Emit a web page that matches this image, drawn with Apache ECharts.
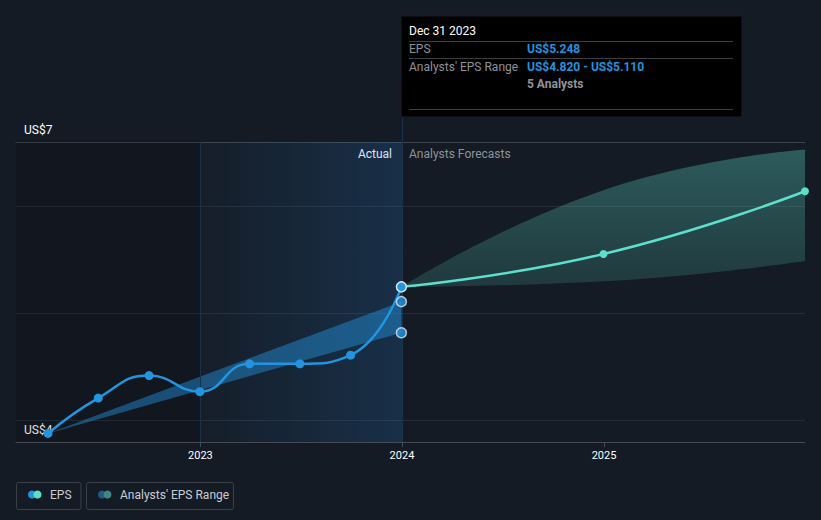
<!DOCTYPE html>
<html>
<head>
<meta charset="utf-8">
<script src="https://cdn.jsdelivr.net/npm/echarts@6/dist/echarts.min.js"></script>
<style>
html,body{margin:0;padding:0;background:#151b24;}
#chart{width:821px;height:520px;}
</style>
</head>
<body>
<div id="chart"></div>
<script>
// ---- data ----
const pastDates = ['2022-03-31','2022-06-30','2022-09-30','2022-12-31','2023-03-31','2023-06-30','2023-09-30','2023-12-31'];
const pastEps   = [3.88, 4.21, 4.42, 4.27, 4.53, 4.53, 4.61, 5.248];
const pastRangeDates = ['2022-03-31','2023-12-31'];
const pastRangeLow   = [3.88, 4.82];
const pastRangeHigh  = [3.88, 5.11];
const rangeEndDate = '2023-12-31';
const rangeEndValues = [5.11, 4.82];
const fcDates = ['2023-12-31','2024-12-31','2025-12-31'];
const fcEps   = [5.248, 5.555, 6.14];
const fcLow   = [5.248, 5.30, 5.49];
const fcHigh  = [5.248, 6.15, 6.53];
const yLabelMap = {4: 'US$4', 6.6: 'US$7'};
const xMin = '2022-02-01', xMax = '2025-12-31';
const yMin = 3.8, yMax = 6.6;
const actualStart = '2023-01-01', actualEnd = '2024-01-01';

const BLUE = '#2394df', TEAL = '#5ce0cc';
const FONT = 'Roboto, "Open Sans", sans-serif';
const VLINE = '#1a3149';

const chart = echarts.init(document.getElementById('chart'), null, {renderer: 'svg'});

const pastBandLower = pastRangeDates.map((d, i) => [d, pastRangeLow[i]]);
const pastBandDiff = pastRangeDates.map((d, i) => [d, pastRangeHigh[i] - pastRangeLow[i]]);
const fcBandLower = fcDates.map((d, i) => [d, fcLow[i]]);
const fcBandDiff = fcDates.map((d, i) => [d, fcHigh[i] - fcLow[i]]);

const option = {
  backgroundColor: '#151b24',
  animation: false,
  textStyle: {fontFamily: FONT},
  grid: {left: 16, right: 16, top: 142, bottom: 78},
  xAxis: [{
    type: 'time', min: xMin, max: xMax, splitNumber: 3,
    axisLine: {lineStyle: {color: '#444b55', width: 1}},
    axisTick: {show: true, length: 5, lineStyle: {color: '#444b55'}},
    axisLabel: {color: '#ffffff', fontSize: 11, margin: 8, formatter: '{yyyy}', fontFamily: FONT},
    splitLine: {show: false}
  }, {
    type: 'time', min: xMin, max: xMax, position: 'top',
    axisLine: {show: true, lineStyle: {color: '#3e444d', width: 1}},
    axisTick: {show: false}, axisLabel: {show: false}, splitLine: {show: false}
  }],
  yAxis: {
    type: 'value', min: yMin, max: yMax, splitNumber: 3,
    axisLine: {show: false}, axisTick: {show: false},
    splitLine: {lineStyle: {color: '#262d37', width: 1}},
    axisLabel: {
      inside: true, margin: 8, showMinLabel: true, showMaxLabel: true,
      formatter: v => {
        for (const k in yLabelMap) { if (Math.abs(v - Number(k)) < 1e-6) return (Number(k) === 4 ? '{lo|' : '{hi|') + yLabelMap[k] + '}'; }
        return '';
      },
      rich: {
        lo: {color: '#ffffff', fontSize: 12, fontFamily: FONT, padding: [18, 0, 0, 0]},
        hi: {color: '#ffffff', fontSize: 12, fontFamily: FONT, padding: [0, 0, 24, 0]}
      }
    }
  },
  series: [
    {
      name: 'regions', type: 'line', data: [], silent: true,
      markArea: {
        silent: true,
        data: [
          [{xAxis: xMin, itemStyle: {color: 'rgba(0,0,0,0.12)'}}, {xAxis: actualStart}],
          [{xAxis: actualStart, itemStyle: {color: new echarts.graphic.LinearGradient(0, 0, 1, 0, [
            {offset: 0, color: 'rgba(35,120,200,0.03)'}, {offset: 1, color: 'rgba(35,120,200,0.22)'}])}}, {xAxis: actualEnd}]
        ]
      },
      markLine: {
        silent: true, symbol: 'none', label: {show: false},
        lineStyle: {color: VLINE, width: 1, type: 'solid'},
        data: [{xAxis: actualStart}, {xAxis: actualEnd}]
      }
    },
    {
      name: 'pastLow', type: 'line', stack: 'past', data: pastBandLower,
      symbol: 'none', lineStyle: {opacity: 0}, silent: true
    },
    {
      name: 'pastBand', type: 'line', stack: 'past', data: pastBandDiff,
      symbol: 'none', lineStyle: {opacity: 0}, silent: true,
      areaStyle: {color: 'rgba(35,148,223,0.45)', opacity: 1}
    },
    {
      name: 'fcLow', type: 'line', stack: 'fc', data: fcBandLower, smooth: 0.5,
      symbol: 'none', lineStyle: {opacity: 0}, silent: true
    },
    {
      name: 'fcBand', type: 'line', stack: 'fc', data: fcBandDiff, smooth: 0.5,
      symbol: 'none', lineStyle: {opacity: 0}, silent: true,
      areaStyle: {opacity: 1, color: new echarts.graphic.LinearGradient(0, 0, 0, 1, [
        {offset: 0, color: 'rgba(95,227,209,0.32)'}, {offset: 1, color: 'rgba(95,227,209,0.15)'}])}
    },
    {
      name: 'fcEps', type: 'line', data: fcDates.map((d, i) => i === 0 ? {value: [d, fcEps[i]], symbol: 'none'} : [d, fcEps[i]]),
      smooth: 0.5, symbol: 'circle', symbolSize: 8, showSymbol: true,
      lineStyle: {color: TEAL, width: 2.5}, itemStyle: {color: TEAL}
    },
    {
      name: 'EPS', type: 'line', data: pastDates.map((d, i) => i === pastDates.length - 1 ?
        {value: [d, pastEps[i]], symbolSize: 10, itemStyle: {color: BLUE, borderColor: '#dfe6ee', borderWidth: 1.5}} : [d, pastEps[i]]),
      smooth: 0.5, symbol: 'circle', symbolSize: 9, showSymbol: true, z: 5,
      lineStyle: {color: BLUE, width: 2.5}, itemStyle: {color: BLUE}
    },
    {
      name: 'rangeEnds', type: 'scatter', z: 6,
      data: rangeEndValues.map(v => [rangeEndDate, v]),
      symbolSize: 10, itemStyle: {color: BLUE, borderColor: '#dfe6ee', borderWidth: 1.5}
    }
  ],
  graphic: [
    {type: 'line', shape: {x1: 402.5, y1: 117, x2: 402.5, y2: 142}, style: {stroke: VLINE, lineWidth: 1}, silent: true},
    {type: 'text', x: 392, y: 154, style: {text: 'Actual', fill: '#ffffff', font: '12px ' + FONT, align: 'right', verticalAlign: 'middle'}},
    {type: 'text', x: 409, y: 154, style: {text: 'Analysts Forecasts', fill: '#8c929a', font: '12px ' + FONT, align: 'left', verticalAlign: 'middle'}},
    // tooltip box
    {type: 'rect', shape: {x: 401, y: 16, width: 341, height: 101}, style: {fill: '#000000', stroke: '#1b1f25', lineWidth: 1}},
    {type: 'line', shape: {x1: 409, y1: 41.5, x2: 733, y2: 41.5}, style: {stroke: '#3b3e43', lineWidth: 1}},
    {type: 'line', shape: {x1: 409, y1: 58.5, x2: 733, y2: 58.5}, style: {stroke: '#3b3e43', lineWidth: 1}},
    {type: 'line', shape: {x1: 409, y1: 109.5, x2: 733, y2: 109.5}, style: {stroke: '#3b3e43', lineWidth: 1}},
    {type: 'text', x: 409, y: 31, style: {text: 'Dec 31 2023', fill: '#ffffff', font: '12px ' + FONT, verticalAlign: 'middle'}},
    {type: 'text', x: 409, y: 49, style: {text: 'EPS', fill: '#8f9398', font: '12px ' + FONT, verticalAlign: 'middle'}},
    {type: 'text', x: 527, y: 49, style: {text: 'US$5.248', fill: BLUE, font: 'bold 12px ' + FONT, verticalAlign: 'middle'}},
    {type: 'text', x: 409, y: 66.5, style: {text: "Analysts' EPS Range", fill: '#8f9398', font: '12px ' + FONT, verticalAlign: 'middle'}},
    {type: 'text', x: 527, y: 66.5, style: {text: 'US$4.820 - US$5.110', fill: BLUE, font: 'bold 12px ' + FONT, verticalAlign: 'middle'}},
    {type: 'text', x: 527, y: 83.5, style: {text: '5 Analysts', fill: '#8f9398', font: 'bold 12px ' + FONT, verticalAlign: 'middle'}},
    // legend
    {type: 'rect', shape: {x: 16.5, y: 482.5, width: 64.5, height: 27, r: 2}, style: {fill: 'transparent', stroke: '#3a4049', lineWidth: 1}},
    {type: 'circle', shape: {cx: 32, cy: 494.5, r: 4}, style: {fill: BLUE}},
    {type: 'circle', shape: {cx: 37.5, cy: 494.5, r: 4}, style: {fill: TEAL}},
    {type: 'text', x: 50, y: 495, style: {text: 'EPS', fill: '#c9cdd2', font: '12px ' + FONT, verticalAlign: 'middle'}},
    {type: 'rect', shape: {x: 86.5, y: 482.5, width: 147, height: 27, r: 2}, style: {fill: 'transparent', stroke: '#3a4049', lineWidth: 1}},
    {type: 'circle', shape: {cx: 102, cy: 494.5, r: 4}, style: {fill: '#1e5a8a'}},
    {type: 'circle', shape: {cx: 107.5, cy: 494.5, r: 4}, style: {fill: '#3e8884'}},
    {type: 'text', x: 120, y: 495, style: {text: "Analysts' EPS Range", fill: '#c9cdd2', font: '12px ' + FONT, verticalAlign: 'middle'}}
  ]
};
chart.setOption(option);
</script>
</body>
</html>
